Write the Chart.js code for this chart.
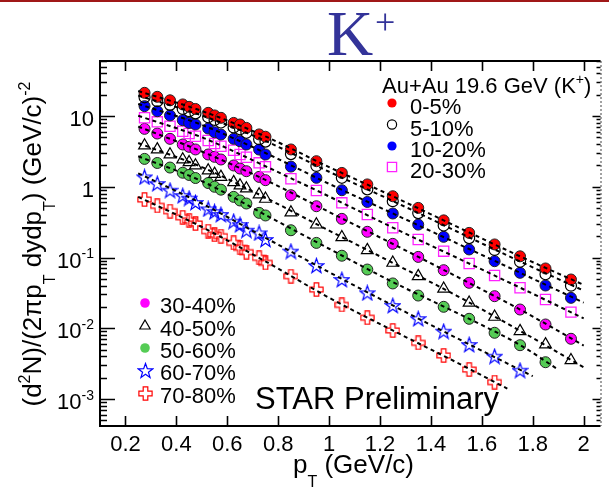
<!DOCTYPE html>
<html>
<head>
<meta charset="utf-8">
<script src="https://cdn.jsdelivr.net/npm/chart.js@4.4.1/dist/chart.umd.min.js"></script>
<style>
  html, body { margin: 0; padding: 0; background: #fff; }
  canvas { display: block; }
</style>
</head>
<body>
<canvas id="myChart" width="609" height="490"></canvas>
<script>
const FONT = '"Liberation Sans", Arial, Helvetica, sans-serif';

// pT bin centres (TPC 0.05 bins up to 0.75, TOF 0.1 bins from 0.45)
const ptBins = [0.275, 0.325, 0.375, 0.425, 0.45, 0.475, 0.525, 0.55, 0.575, 0.625, 0.65, 0.675,
  0.725, 0.75, 0.85, 0.95, 1.05, 1.15, 1.25, 1.35, 1.45, 1.55, 1.65, 1.75, 1.85, 1.95];

const centLabels = ['0-5%', '5-10%', '10-20%', '20-30%', '30-40%', '40-50%', '50-60%', '60-70%', '70-80%'];

const cent0_5 = [21.3, 18.7, 16.7, 14.6, 13.5, 12.6, 11.1, 10.2, 9.44, 8.0, 7.6, 6.8, 5.5, 5.1,
  3.37, 2.30, 1.57, 1.08, 0.735, 0.503, 0.335, 0.223, 0.153, 0.104, 0.070, 0.0489];
const cent5_10 = [18.4, 16.2, 14.4, 12.6, 11.7, 10.9, 9.6, 8.8, 8.1, 6.9, 6.5, 5.8, 4.7, 4.35,
  2.9, 1.97, 1.34, 0.92, 0.625, 0.425, 0.283, 0.188, 0.128, 0.087, 0.058, 0.040];
const cent10_20 = [13.8, 11.7, 10.2, 8.73, 8.0, 7.6, 6.66, 5.9, 5.48, 4.76, 4.4, 3.96, 3.36, 2.86,
  1.93, 1.34, 0.894, 0.61, 0.419, 0.292, 0.196, 0.130, 0.0887, 0.0608, 0.0402, 0.0269];
const cent20_30 = [9.44, 8.28, 7.18, 6.1, 5.66, 5.19, 4.51, 4.09, 3.74, 3.29, 2.86, 2.62, 2.18, 1.92,
  1.30, 0.885, 0.593, 0.406, 0.263, 0.180, 0.123, 0.0822, 0.0557, 0.0373, 0.0255, 0.0169];
const cent30_40 = [6.59, 5.66, 4.76, 3.96, 3.67, 3.37, 2.86, 2.65, 2.43, 2.0, 1.81, 1.66, 1.38, 1.24,
  0.76, 0.531, 0.352, 0.231, 0.156, 0.102, 0.0662, 0.0439, 0.0284, 0.0184, 0.0113, 0.0071];
const cent40_50 = [3.83, 3.37, 2.86, 2.43, 2.22, 2.0, 1.70, 1.52, 1.38, 1.16, 1.04, 0.944, 0.776, 0.675,
  0.433, 0.292, 0.193, 0.127, 0.0841, 0.0544, 0.0361, 0.0229, 0.0145, 0.0091, 0.0059, 0.00353];
const cent50_60 = [2.48, 2.17, 1.87, 1.58, 1.47, 1.33, 1.13, 1.0, 0.91, 0.72, 0.64, 0.58, 0.428, 0.393,
  0.243, 0.161, 0.106, 0.0676, 0.043, 0.029, 0.0201, 0.0136, 0.00863, 0.00576, 0.00331];
const cent60_70 = [1.38, 1.11, 0.894, 0.751, 0.69, 0.60, 0.487, 0.445, 0.406, 0.326, 0.292, 0.243, 0.223, 0.180,
  0.123, 0.0771, 0.0489, 0.0317, 0.0210, 0.0137, 0.00908, 0.00589, 0.00402, 0.00255];
const cent70_80 = [0.66, 0.538, 0.451, 0.37, 0.335, 0.303, 0.236, 0.211, 0.200, 0.161, 0.137, 0.119, 0.099, 0.0841,
  0.0544, 0.0353, 0.0214, 0.0141, 0.0093, 0.00622, 0.00412, 0.00261, 0.00173];

// dashed fit curves
const fitPtFull = [0.25, 0.5, 0.75, 1.0, 1.25, 1.5, 1.75, 2.0];
const fitPt50_60 = [0.25, 0.5, 0.75, 1.0, 1.25, 1.5, 1.75, 1.9];
const fitPt60_70 = [0.25, 0.5, 0.75, 1.0, 1.25, 1.5, 1.8];
const fitPt70_80 = [0.25, 0.5, 0.75, 1.0, 1.25, 1.5, 1.7];
const fit0_5 = [22.6, 11.8, 5.15, 1.9, 0.735, 0.275, 0.104, 0.041];
const fit5_10 = [19.5, 10.2, 4.45, 1.63, 0.63, 0.235, 0.088, 0.034];
const fit10_20 = [14.8, 7.5, 3.0, 1.1, 0.42, 0.16, 0.061, 0.023];
const fit20_30 = [10.1, 5.0, 1.95, 0.73, 0.265, 0.1, 0.0375, 0.0138];
const fit30_40 = [7.1, 3.15, 1.25, 0.44, 0.156, 0.054, 0.0184, 0.0057];
const fit40_50 = [4.15, 1.9, 0.70, 0.24, 0.084, 0.029, 0.0092, 0.0028];
const fit50_60 = [2.7, 1.2, 0.40, 0.133, 0.045, 0.0166, 0.0058, 0.0026];
const fit60_70 = [1.55, 0.58, 0.19, 0.062, 0.021, 0.0073, 0.0021];
const fit70_80 = [0.72, 0.27, 0.088, 0.027, 0.0093, 0.0033, 0.0014];

// x ticks every 0.1, labelled every 0.2
const xTickValues = [0.1, 0.2, 0.3, 0.4, 0.5, 0.6, 0.7, 0.8, 0.9, 1.0, 1.1, 1.2, 1.3, 1.4, 1.5, 1.6, 1.7, 1.8, 1.9, 2.0];
// y axis decade labels
const yTickValues = [10, 1, 0.1, 0.01, 0.001];
const yTickBase = ['10', '1', '10', '10', '10'];
const yTickExp = ['', '', '-1', '-2', '-3'];

const yields = [cent0_5, cent5_10, cent10_20, cent20_30, cent30_40, cent40_50, cent50_60, cent60_70, cent70_80];
const fits = [
  [fitPtFull, fit0_5], [fitPtFull, fit5_10], [fitPtFull, fit10_20], [fitPtFull, fit20_30],
  [fitPtFull, fit30_40], [fitPtFull, fit40_50], [fitPt50_60, fit50_60], [fitPt60_70, fit60_70], [fitPt70_80, fit70_80]
];

function makeStar(color)
{
    const c = document.createElement('canvas');
    c.width = 17; c.height = 17;
    const g = c.getContext('2d');
    g.strokeStyle = color;
    g.lineWidth = 1.2;
    g.beginPath();
    for (let i = 0; i < 10; i++) {
        const r = i % 2 ? 3.1 : 7.7;
        const a = -Math.PI / 2 + i * Math.PI / 5;
        const px = 8.5 + r * Math.cos(a), py = 9.2 + r * Math.sin(a);
        if (i) g.lineTo(px, py); else g.moveTo(px, py);
    }
    g.closePath();
    g.stroke();
    return c;
}

function makeCross(color)
{
    const c = document.createElement('canvas');
    c.width = 15; c.height = 15;
    const g = c.getContext('2d');
    const m = 7.5, h = 6.6, a = 2.3;
    const pts = [[-a, -h], [a, -h], [a, -a], [h, -a], [h, a], [a, a], [a, h], [-a, h], [-a, a], [-h, a], [-h, -a], [-a, -a]];
    g.strokeStyle = color;
    g.lineWidth = 1.2;
    g.beginPath();
    pts.forEach(([px, py], i) => i ? g.lineTo(m + px, m + py) : g.moveTo(m + px, m + py));
    g.closePath();
    g.stroke();
    return c;
}

const NONE = 'rgba(0,0,0,0)';
const markers = [
    { style: 'circle', r: 5.5, fill: '#ff0000', edge: '#222', bw: 1 },
    { style: 'circle', r: 5.5, fill: NONE, edge: '#000', bw: 1.2 },
    { style: 'circle', r: 5.5, fill: '#0000ff', edge: '#222', bw: 1 },
    { style: 'rect', r: 7.2, fill: NONE, edge: '#ff22ff', bw: 1.3 },
    { style: 'circle', r: 5.5, fill: '#ff00ff', edge: '#222', bw: 1 },
    { style: 'triangle', r: 6.8, fill: NONE, edge: '#000', bw: 1.2 },
    { style: 'circle', r: 5.5, fill: '#55cc55', edge: '#222', bw: 1 },
    { style: makeStar('#0000ff'), r: 7, fill: NONE, edge: '#0000ff', bw: 1 },
    { style: makeCross('#ff0000'), r: 7, fill: NONE, edge: '#ff0000', bw: 1 }
];

const datasets = [];
yields.forEach((vals, i) =>
{
    const m = markers[i];
    datasets.push({
        label: centLabels[i],
        data: vals.map((v, k) => ({ x: ptBins[k], y: v })),
        showLine: false,
        pointStyle: m.style,
        pointRadius: m.r,
        pointBackgroundColor: m.fill,
        pointBorderColor: m.edge,
        pointBorderWidth: m.bw,
        order: 1
    });
});
fits.forEach(([pts, vals]) =>
{
    datasets.push({
        type: 'line',
        label: '',
        data: vals.map((v, k) => ({ x: pts[k], y: v })),
        showLine: true,
        borderColor: '#000',
        borderWidth: 2,
        borderDash: [4, 3.5],
        cubicInterpolationMode: 'monotone',
        pointRadius: 0,
        fill: false,
        order: 0
    });
});

// text with sub/superscripts: parts = [[text, 'n'|'sub'|'sup'], ...]
function richWidth(ctx, parts, size)
{
    let w = 0;
    parts.forEach(([t, k]) =>
    {
        ctx.font = (k === 'n' ? size : Math.round(size * 0.62)) + 'px ' + FONT;
        w += ctx.measureText(t).width;
    });
    return w;
}
function drawRich(ctx, parts, x, y, size)
{
    parts.forEach(([t, k]) =>
    {
        const s = k === 'n' ? size : Math.round(size * 0.62);
        const dy = k === 'sup' ? -size * 0.42 : k === 'sub' ? size * 0.52 : 0;
        ctx.font = s + 'px ' + FONT;
        ctx.fillText(t, x, y + dy);
        x += ctx.measureText(t).width;
    });
}

function drawMarker(ctx, m, x, y)
{
    if (typeof m.style !== 'string') {
        ctx.drawImage(m.style, Math.round(x - m.style.width / 2), Math.round(y - m.style.height / 2));
        return;
    }
    ctx.beginPath();
    if (m.style === 'circle') {
        ctx.arc(x, y, m.r, 0, Math.PI * 2);
    } else if (m.style === 'rect') {
        const s = m.r * Math.SQRT1_2;
        ctx.rect(x - s, y - s, 2 * s, 2 * s);
    } else {
        for (let i = 0; i < 3; i++) {
            const a = i * 2 * Math.PI / 3;
            const px = x + Math.sin(a) * m.r, py = y - Math.cos(a) * m.r;
            if (i) ctx.lineTo(px, py); else ctx.moveTo(px, py);
        }
        ctx.closePath();
    }
    if (m.fill !== NONE) {
        ctx.fillStyle = m.fill;
        ctx.fill();
    } else {
        ctx.strokeStyle = m.edge;
        ctx.lineWidth = m.bw;
        ctx.stroke();
    }
}

const frameAndText = {
    id: 'frameAndText',
    afterDatasetsDraw(chart)
    {
        const { ctx, chartArea: a, scales: { x, y } } = chart;
        ctx.save();

        // inward ticks, x
        ctx.strokeStyle = '#000';
        ctx.lineWidth = 1.6;
        ctx.beginPath();
        x.ticks.forEach(t =>
        {
            const n = Math.round(t.value * 10);
            const px = Math.round(x.getPixelForValue(t.value)) + 0.5;
            const len = n % 2 === 0 ? 10 : 5;
            ctx.moveTo(px, a.bottom); ctx.lineTo(px, a.bottom - len);
            ctx.moveTo(px, a.top); ctx.lineTo(px, a.top + len);
        });
        // inward ticks, y (log)
        for (let e = -4; e <= 1; e++) {
            for (let m = 1; m <= 9; m++) {
                const v = m * Math.pow(10, e);
                if (v < y.min || v > y.max) continue;
                const py = Math.round(y.getPixelForValue(v)) + 0.5;
                const len = m === 1 ? 15 : 7;
                ctx.moveTo(a.left, py); ctx.lineTo(a.left + len, py);
                ctx.moveTo(a.right, py); ctx.lineTo(a.right - (m === 1 ? 8 : 4), py);
            }
        }
        ctx.stroke();

        // frame
        ctx.lineWidth = 2;
        ctx.beginPath();
        ctx.moveTo(a.right, a.top); ctx.lineTo(a.left, a.top);
        ctx.lineTo(a.left, a.bottom); ctx.lineTo(a.right, a.bottom);
        ctx.stroke();
        ctx.lineWidth = 1;
        ctx.strokeStyle = '#444';
        ctx.setLineDash([2, 2]);
        ctx.beginPath();
        ctx.moveTo(a.right + 0.5, a.top); ctx.lineTo(a.right + 0.5, a.bottom);
        ctx.stroke();
        ctx.setLineDash([]);

        ctx.restore();
    },
    afterDraw(chart)
    {
        const { ctx, scales: { y } } = chart;
        ctx.save();
        ctx.textBaseline = 'alphabetic';

        // header rule and title
        ctx.fillStyle = '#a01818';
        ctx.fillRect(0, 0, chart.width, 2);
        ctx.fillStyle = '#333399';
        ctx.font = '64px "Liberation Serif", "Times New Roman", serif';
        ctx.fillText('K', 327, 55);
        ctx.font = '36px "Liberation Serif", "Times New Roman", serif';
        ctx.fillText('+', 375, 34);

        // y decade labels
        ctx.fillStyle = '#000';
        yTickValues.forEach((v, i) =>
        {
            const parts = [[yTickBase[i], 'n']];
            if (yTickExp[i]) parts.push([yTickExp[i], 'sup']);
            const w = richWidth(ctx, parts, 22);
            drawRich(ctx, parts, 94 - w, y.getPixelForValue(v) + 10, 22);
        });

        // axis titles
        drawRich(ctx, [['p', 'n'], ['T', 'sub'], [' (GeV/c)', 'n']], 293, 473, 26);
        const yTitle = [['(d', 'n'], ['2', 'sup'], ['N)/(2πp', 'n'], ['T', 'sub'], [' dydp', 'n'],
            ['T', 'sub'], [') (GeV/c)', 'n'], ['-2', 'sup']];
        const tw = richWidth(ctx, yTitle, 26);
        ctx.save();
        ctx.translate(41, 244);
        ctx.rotate(-Math.PI / 2);
        drawRich(ctx, yTitle, -tw / 2, 0, 26);
        ctx.restore();

        // upper legend
        drawRich(ctx, [['Au+Au 19.6 GeV (K', 'n'], ['+', 'sup'], [')', 'n']], 382, 93, 22);
        const topRows = [103, 124.5, 146, 167];
        topRows.forEach((ry, i) =>
        {
            drawMarker(ctx, Object.assign({}, markers[i], { r: markers[i].style === 'rect' ? 6.5 : 4.6 }), 392, ry);
            ctx.fillStyle = '#000';
            ctx.font = '22px ' + FONT;
            ctx.fillText(centLabels[i], 410, ry + 11);
        });

        // lower legend
        const lowRows = [303, 326, 348, 370, 393];
        lowRows.forEach((ry, k) =>
        {
            const i = k + 4;
            const m = markers[i].style === 'triangle' ? Object.assign({}, markers[i], { r: 6 }) :
                Object.assign({}, markers[i], { r: 4.8 });
            drawMarker(ctx, m, 145, ry);
            ctx.fillStyle = '#000';
            ctx.font = '22px ' + FONT;
            ctx.fillText(centLabels[i], 160, ry + 10);
        });

        ctx.font = '31px ' + FONT;
        ctx.fillText('STAR Preliminary', 255, 409);
        ctx.restore();
    }
};

const ctx = document.getElementById('myChart').getContext('2d');
const myChart = new Chart(ctx, {
    type: 'scatter',
    data: { datasets },
    options: {
        responsive: false,
        animation: false,
        events: [],
        layout: { padding: { top: 61, right: 2, left: 0, bottom: 0 } },
        plugins: { legend: { display: false }, tooltip: { enabled: false } },
        scales: {
            x: {
                type: 'linear',
                min: 0.1,
                max: 2.066,
                afterFit: s => { s.height = 64; },
                afterBuildTicks: s => { s.ticks = xTickValues.map(v => ({ value: v })); },
                grid: { display: false, drawTicks: false },
                border: { display: false },
                ticks: {
                    autoSkip: false,
                    maxRotation: 0,
                    padding: 6,
                    color: '#000',
                    font: { family: FONT, size: 22 },
                    callback: function (value)
                    {
                        const n = Math.round(value * 10);
                        if (n % 2 !== 0 || n < 2) return null;
                        return String(n / 10);
                    }
                }
            },
            y: {
                type: 'logarithmic',
                min: 4.15e-4,
                max: 60,
                afterFit: s => { s.width = 100; },
                grid: { display: false, drawTicks: false },
                border: { display: false },
                ticks: { display: false }
            }
        }
    },
    plugins: [frameAndText]
});
</script>
</body>
</html>
